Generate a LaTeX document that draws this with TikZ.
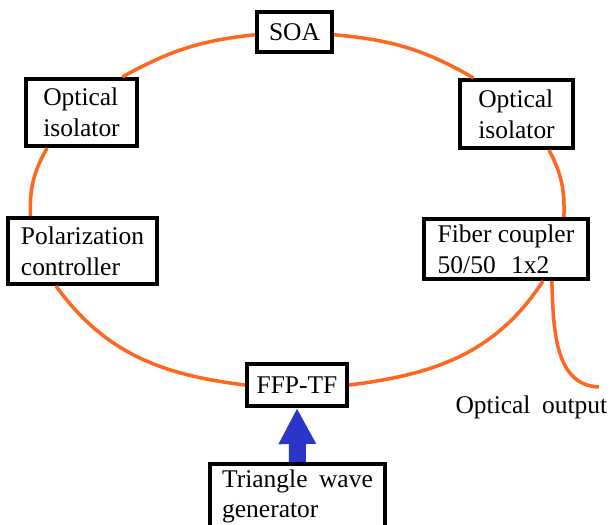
\documentclass[tikz,border=0pt]{standalone}
\usepackage{fontspec}
\setmainfont{Liberation Serif}
\usetikzlibrary{arrows.meta}
\definecolor{fiber}{RGB}{255,102,31}
\definecolor{drive}{RGB}{43,53,200}

\begin{document}
\begin{tikzpicture}[box/.style={draw,line width=2.1pt,fill=white,align=left,inner sep=2pt,font=\fontsize{14.5}{17.5}\selectfont},
  ring/.style={draw=fiber,line width=2pt}]
 \useasboundingbox (0,0) rectangle (12.2,-10.5);
 \node[box,minimum width=1.51cm,minimum height=0.81cm] (soa) at (5.89,-0.64) {SOA};
 \node[box,minimum width=2.23cm,minimum height=1.35cm] (isoL) at (1.63,-2.25) {Optical\\isolator};
 \node[box,minimum width=2.27cm,minimum height=1.37cm] (isoR) at (10.33,-2.28) {Optical\\isolator};
 \node[box,minimum width=2.99cm,minimum height=1.33cm] (pol) at (1.65,-5.02) {Polarization\\controller};
 \node[box,minimum width=3.29cm,minimum height=1.21cm] (coupler) at (10.12,-4.98) {Fiber coupler\\50/50\hspace{.6em}1x2};
 \node[box,minimum width=2.01cm,minimum height=0.85cm] (ffp) at (5.94,-7.7) {FFP-TF};
 \node[box,anchor=north,minimum width=3.51cm,minimum height=1.3cm] (gen) at (5.95,-9.24) {Triangle\hspace{.45em}wave\\generator};
 \node[anchor=east,inner sep=0pt,font=\fontsize{14.5}{17.5}\selectfont] (out) at (12.15,-8.14) {Optical\hspace{.45em}output};
 \coordinate (outEnd) at (11.98,-7.74);
 \draw[ring] (soa.184) to[out=186,in=29] (isoL.41);
 \draw[ring] (soa.356) to[out=-5,in=150] (isoR.140);
 \draw[ring] (isoL.226) to[out=240,in=92] (pol.146);
 \draw[ring] (isoR.312) to[out=-62,in=88] (coupler.29);
 \draw[ring] (pol.233) to[out=-54,in=173] (ffp.west);
 \draw[ring] (ffp.east) to[out=7,in=237] (coupler.319);
 \draw[ring] (coupler.325) to[out=-88,in=178] (outEnd);
 \draw[drive,line width=0.34cm,-{Triangle[width=0.7cm,length=0.72cm]}] (gen.north) -- (ffp.south);
\end{tikzpicture}
\end{document}
